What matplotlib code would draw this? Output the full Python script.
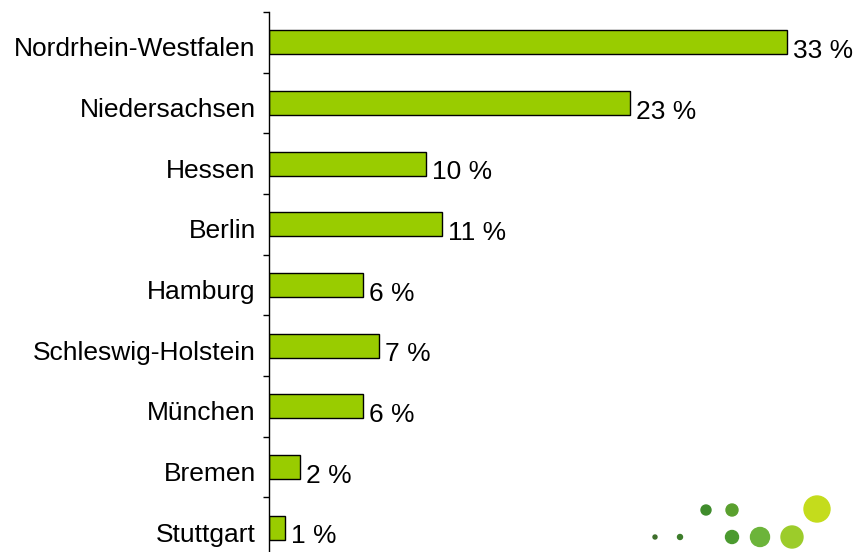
import matplotlib.pyplot as plt
from matplotlib.patches import Circle
from matplotlib.ticker import FixedLocator

plt.rcParams['font.family'] = ['Liberation Sans', 'DejaVu Sans']

# Daten
regions = ['Nordrhein-Westfalen', 'Niedersachsen', 'Hessen', 'Berlin', 'Hamburg',
           'Schleswig-Holstein', 'München', 'Bremen', 'Stuttgart']
shares = [33, 23, 10, 11, 6, 7, 6, 2, 1]

W, H = 855, 552
fig = plt.figure(figsize=(W / 100, H / 100), dpi=100)
ax = fig.add_axes([269 / W, 1 - 558 / H, (W - 269) / W, (558 - 12) / H])

pos = list(range(len(regions)))
ax.barh(pos, shares, height=0.4, color='#99cc00', edgecolor='black', linewidth=1)
ax.set_ylim(len(regions) - 0.5, -0.5)
ax.set_xlim(0, (W - 269) / 15.7)

for p, v in zip(pos, shares):
    ax.text(v + 0.38, p + 0.26, f'{v} %', va='baseline', ha='left', fontsize=19)

# Beschriftung auf Grundlinie unterhalb der Balkenmitte, Striche zwischen den Kategorien
ax.set_yticks([p + 0.231 for p in pos])
ax.set_yticklabels(regions, fontsize=19)
for lab in ax.get_yticklabels():
    lab.set_va('baseline')
ax.tick_params(axis='y', which='major', length=0, pad=9.5)
ax.yaxis.set_minor_locator(FixedLocator([p - 0.5 for p in pos] + [len(regions) - 0.5]))
ax.tick_params(axis='y', which='minor', length=4, width=1, direction='out')

ax.set_xticks([])
for s in ['top', 'right', 'bottom']:
    ax.spines[s].set_visible(False)
ax.spines['left'].set_linewidth(1)
ax.patch.set_alpha(0)

# Logo-Punkte unten rechts
lax = fig.add_axes([0, 0, 1, 1])
lax.set_xlim(0, W)
lax.set_ylim(H, 0)
lax.axis('off')
dots = [(655, 537, 2, '#3d6e2a'), (680, 537, 2.5, '#3d7d2a'), (706, 510, 5, '#3f8c2c'),
        (732, 510, 6, '#5aa02e'), (732, 537, 6.5, '#4b9a2f'), (760, 537, 9.5, '#6cb43a'),
        (792, 537, 11, '#9ccc2a'), (817, 509, 13, '#c4dc1c')]
for x, y, r, c in dots:
    lax.add_patch(Circle((x, y), r, color=c))

fig.savefig('out.png', dpi=100)
